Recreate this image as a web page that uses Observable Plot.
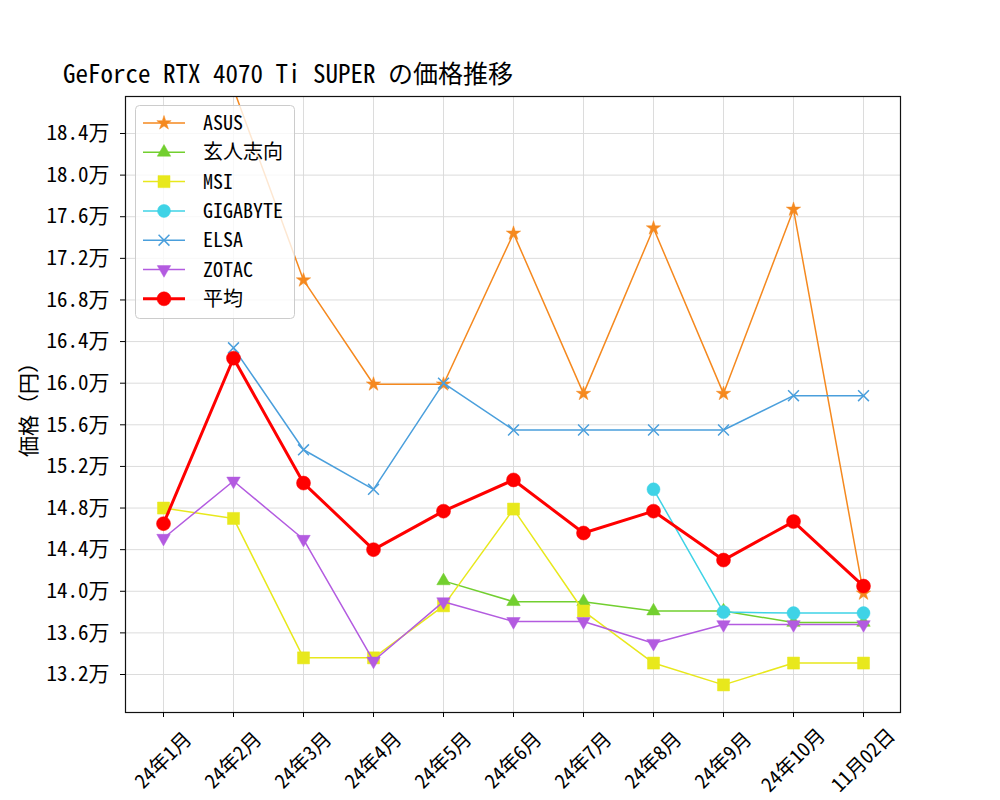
<!DOCTYPE html>
<html>
<head>
<meta charset="utf-8">
<script src="https://cdn.jsdelivr.net/npm/d3@7"></script>
<script src="https://cdn.jsdelivr.net/npm/@observablehq/plot@0.6"></script>
<style>
  body { margin: 0; background: white; }
  #wrap { position: relative; width: 1000px; height: 800px; font-family: 'Noto Sans Mono CJK JP', 'Noto Sans CJK JP', monospace; }
  #title { position: absolute; left: 63px; top: 60px; font-size: 25px; color: black; white-space: nowrap; line-height: 1; }
  #legend { position: absolute; left: 135px; top: 105px; }
</style>
</head>
<body>
<div id="wrap">
  <div id="chart"></div>
  <div id="title">GeForce RTX 4070 Ti SUPER の価格推移</div>
  <div id="legend"></div>
</div>
<script>
// ---- data (values in yen) ----
const months = ["24年1月","24年2月","24年3月","24年4月","24年5月","24年6月","24年7月","24年8月","24年9月","24年10月","11月02日"];
const asus      = [null, 188300, 169900, 159900, 159900, 174400, 159000, 174900, 159000, 176700, 139800];
const kurouto   = [null, null, null, null, 141000, 139000, 139000, 138100, 138100, 137000, 137000];
const msi       = [148000, 147000, 133600, 133600, 138600, 147900, 138100, 133100, 131000, 133100, 133100];
const gigabyte  = [null, null, null, null, null, null, null, 149800, 138000, 137900, 137900];
const elsa      = [null, 163400, 153600, 149800, 160000, 155500, 155500, 155500, 155500, 158800, 158800];
const zotac     = [145100, 150600, 145000, 133300, 139000, 137100, 137100, 135000, 136800, 136800, 136800];
const average   = [146500, 162400, 150400, 144000, 147700, 150700, 145600, 147700, 143000, 146700, 140500];
const seriesNames = ["ASUS", "玄人志向", "MSI", "GIGABYTE", "ELSA", "ZOTAC", "平均"];
const yTicks = [132000,136000,140000,144000,148000,152000,156000,160000,164000,168000,172000,176000,180000,184000];

const seriesValues = [asus, kurouto, msi, gigabyte, elsa, zotac, average];
const styles = [
  {color: "#f5891f", symbol: "star", rotate: 0, r: 4.5, sw: 1.5, fillMarker: true},
  {color: "#72cf2f", symbol: "triangle", rotate: 0, r: 5, sw: 1.5, fillMarker: true},
  {color: "#e8e81c", symbol: "square", rotate: 0, r: 6.8, sw: 1.5, fillMarker: true},
  {color: "#3fd3e6", symbol: "circle", rotate: 0, r: 6.5, sw: 1.5, fillMarker: true},
  {color: "#4a9fdc", symbol: "times", rotate: 0, r: 5, sw: 1.5, fillMarker: false},
  {color: "#b35be0", symbol: "triangle", rotate: 180, r: 5, sw: 1.5, fillMarker: true},
  {color: "#ff0000", symbol: "circle", rotate: 0, r: 7, sw: 3, fillMarker: true}
];

const FONT = "'Noto Sans Mono CJK JP', 'Noto Sans CJK JP', monospace";

const marks = [
  Plot.gridX(months, {stroke: "#dcdcdc", strokeOpacity: 1, strokeWidth: 1}),
  Plot.gridY(yTicks, {stroke: "#dcdcdc", strokeOpacity: 1, strokeWidth: 1})
];

seriesValues.forEach((vals, si) => {
  const st = styles[si];
  const rows = months.map((m, i) => ({month: m, value: vals[i]})).filter(d => d.value != null);
  marks.push(Plot.line(rows, {x: "month", y: "value", stroke: st.color, strokeWidth: st.sw, clip: true}));
  if (st.fillMarker) {
    marks.push(Plot.dot(rows, {x: "month", y: "value", symbol: () => st.symbol, fill: st.color, stroke: st.color, strokeWidth: 0.5, r: st.r, rotate: st.rotate, clip: true}));
  } else {
    marks.push(Plot.dot(rows, {x: "month", y: "value", symbol: () => st.symbol, fill: "none", stroke: st.color, strokeWidth: 1.5, r: st.r, clip: true}));
  }
});

marks.push(Plot.frame({stroke: "#111", strokeWidth: 1.2}));
marks.push(Plot.axisY(yTicks, {tickSize: 5, tickPadding: 11, fontSize: 21, tickFormat: d => (d / 10000).toFixed(1) + "万", label: "価格（円）", labelAnchor: "center", labelOffset: 104, labelArrow: "none"}));
marks.push(Plot.axisX({tickSize: 5, tickPadding: 43, fontSize: 20, tickRotate: -45, textAnchor: "middle", lineAnchor: "middle", label: null}));

const chart = Plot.plot({
  width: 1000,
  height: 800,
  marginTop: 96,
  marginBottom: 88,
  marginLeft: 125,
  marginRight: 100,
  style: {fontFamily: FONT, fontSize: "20px", color: "black", background: "white"},
  x: {type: "point", domain: months, padding: 0.5},
  y: {domain: [128348, 187556]},
  symbol: {type: "identity"},
  marks
});
document.getElementById("chart").appendChild(chart);

// ---- legend ----
const lw = 159, lh = 213, rowH = 29.3;
const lsvg = d3.select("#legend").append("svg").attr("width", lw + 2).attr("height", lh + 2);
lsvg.append("rect").attr("x", 0.5).attr("y", 0.5).attr("width", lw).attr("height", lh).attr("rx", 4)
  .attr("fill", "white").attr("fill-opacity", 0.8).attr("stroke", "#cccccc");
const symMap = {star: d3.symbolStar, triangle: d3.symbolTriangle, square: d3.symbolSquare, circle: d3.symbolCircle, times: d3.symbolTimes};
seriesNames.forEach((name, i) => {
  const st = styles[i];
  const cy = 18 + i * rowH;
  const g = lsvg.append("g");
  g.append("line").attr("x1", 8).attr("x2", 50).attr("y1", cy).attr("y2", cy).attr("stroke", st.color).attr("stroke-width", st.sw);
  const size = Math.PI * st.r * st.r;
  g.append("path").attr("d", d3.symbol(symMap[st.symbol], size)())
    .attr("transform", `translate(29,${cy}) rotate(${st.rotate})`)
    .attr("fill", st.fillMarker ? st.color : "none").attr("stroke", st.color).attr("stroke-width", st.fillMarker ? 0.5 : 1.5);
  g.append("text").attr("x", 68).attr("y", cy).attr("dy", "0.35em").attr("font-family", FONT).attr("font-size", 20).text(name);
});
</script>
</body>
</html>
